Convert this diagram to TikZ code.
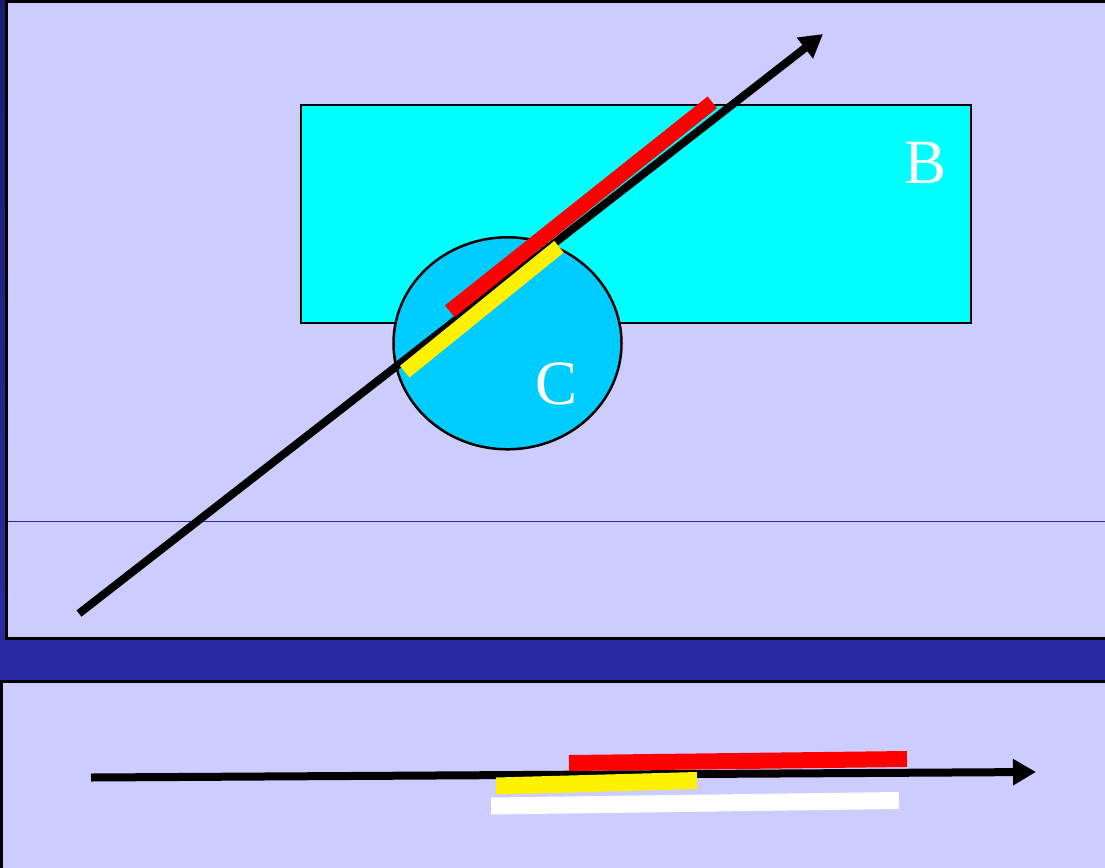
\documentclass[tikz,border=0pt]{standalone}
\usepackage{fontspec}
\setmainfont{Liberation Serif}
\usetikzlibrary{arrows.meta,shapes.geometric}
\definecolor{bgblue}{HTML}{2929A3}
\definecolor{darkstrip}{HTML}{1B1B6E}
\definecolor{lav}{HTML}{CCCCFF}
\definecolor{cyanbox}{HTML}{00FFFF}
\definecolor{skyc}{HTML}{00CCFF}
\tikzset{
  panel/.style={fill=lav,draw=black,line width=3pt},
  boxB/.style={rectangle,fill=cyanbox,draw=black,line width=2.5pt,inner sep=0pt},
  ellC/.style={ellipse,fill=skyc,draw=black,line width=2.5pt,inner sep=0pt},
  ray/.style={line width=8pt,-{Triangle[length=23pt,width=25pt]}},
  bar/.style={line cap=butt},
  lbl/.style={text=white,inner sep=0pt,font=\fontsize{63}{70}\selectfont}
}
\begin{document}
\begin{tikzpicture}[x=1pt,y=-1pt]
\useasboundingbox (0,0) rectangle (1105,867);
% background
\fill[bgblue] (0,0) rectangle (1105,867);
\shade[top color=darkstrip,bottom color=bgblue] (0,0) rectangle (6,640);
% panels
\draw[panel] (6.5,2) rectangle (1112,638);
\draw[bgblue,line width=1.2pt] (7.5,521.3) -- (1105,521.3);
\draw[panel] (1.5,681) rectangle (1112,875);
% shapes
\node[boxB,minimum width=670pt,minimum height=218pt] (B) at (636,214) {};
\node[ellC,minimum width=228pt,minimum height=212pt] (C) at (507.5,343.3) {};
% top ray and bars
\coordinate (r1s) at (79,613.5);
\coordinate (r1e) at (823,34);
\draw[ray] (r1s) -- (r1e);
\coordinate (red1a) at (449.7,311.3);
\coordinate (red1b) at (712.3,102.3);
\draw[bar,red,line width=15pt] (red1a) -- (red1b);
\coordinate (yel1a) at (404.7,371.7);
\coordinate (yel1b) at (559,246.7);
\draw[bar,yellow,line width=15pt] (yel1a) -- (yel1b);
\node[lbl] (labB) at (925.5,162.5) {B};
\node[lbl] (labC) at (556.5,384) {C};
% bottom ray and bars
\coordinate (r2s) at (91,777.5);
\coordinate (r2e) at (1036,772);
\draw[ray] (r2s) -- (r2e);
\coordinate (red2a) at (569,763);
\coordinate (red2b) at (907,759);
\draw[bar,red,line width=16pt] (red2a) -- (red2b);
\coordinate (yel2a) at (496,786);
\coordinate (yel2b) at (697,780.5);
\draw[bar,yellow,line width=17pt] (yel2a) -- (yel2b);
\coordinate (wh2a) at (491,806);
\coordinate (wh2b) at (899,800.5);
\draw[bar,white,line width=17pt] (wh2a) -- (wh2b);
\end{tikzpicture}
\end{document}
